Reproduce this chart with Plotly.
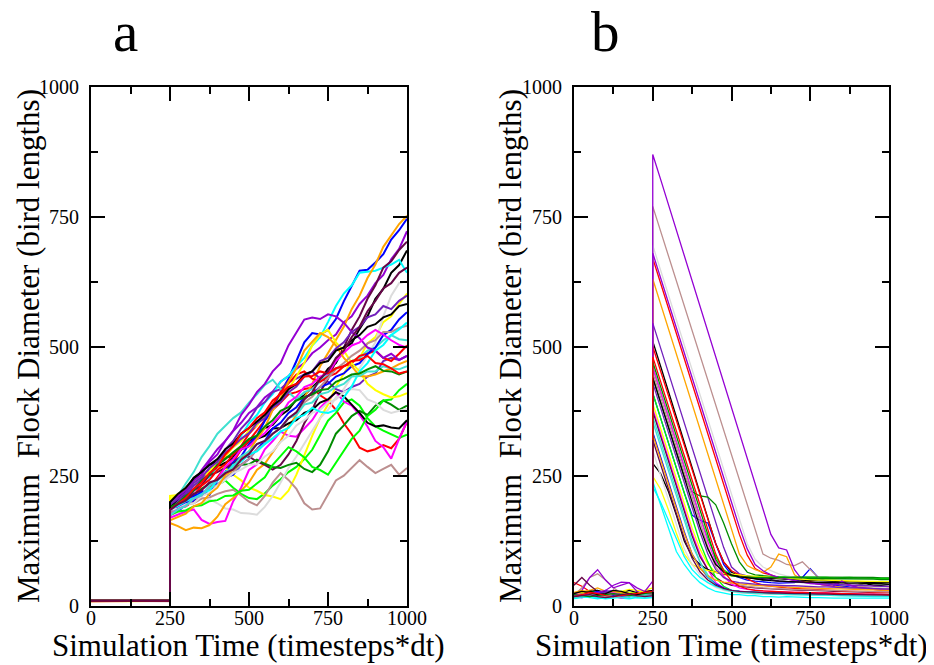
import plotly.graph_objs as go
from plotly.subplots import make_subplots

# time samples (timesteps*dt); 250 appears twice for the jump
T_A = [0, 125, 250, 250, 275, 300, 325, 350, 375, 400, 425, 450, 475, 500, 525, 550, 575, 600,
       625, 650, 675, 700, 725, 750, 775, 800, 825, 850, 875, 900, 925, 950, 975, 1000]
T_B = [0, 25, 50, 75, 100, 125, 150, 175, 200, 225, 250, 250, 275, 300, 325, 350, 375, 400, 425,
       450, 475, 500, 525, 550, 575, 600, 625, 650, 675, 700, 725, 750, 775, 800, 825, 850, 875,
       900, 925, 950, 975, 1000]

# panel a: flock diameter per run
A01 = [10, 11, 10, 185, 198, 218, 224, 243, 252, 268, 276, 285, 301, 318, 326, 343, 349, 367, 378, 398, 406, 422, 436, 457, 468, 497, 506, 534, 558, 592, 611, 642, 657, 685]
A02 = [9, 10, 10, 175, 188, 192, 203, 213, 228, 248, 268, 276, 302, 318, 338, 356, 378, 392, 408, 412, 418, 421, 406, 396, 378, 352, 331, 305, 298, 302, 310, 304, 322, 355]
A03 = [11, 10, 10, 180, 192, 198, 212, 214, 228, 233, 242, 228, 216, 208, 206, 217, 232, 244, 258, 268, 283, 301, 328, 357, 372, 392, 398, 386, 362, 346, 338, 331, 324, 330]
A04 = [10, 10, 11, 190, 182, 196, 203, 222, 214, 242, 258, 277, 288, 312, 328, 357, 378, 412, 438, 472, 508, 526, 523, 532, 553, 587, 618, 646, 648, 662, 678, 706, 724, 746]
A05 = [10, 9, 10, 205, 216, 224, 232, 243, 262, 268, 266, 253, 242, 228, 222, 214, 211, 206, 222, 253, 292, 328, 362, 388, 423, 448, 472, 478, 506, 518, 547, 558, 582, 602]
A06 = [10, 10, 9, 180, 188, 196, 198, 207, 209, 216, 221, 224, 213, 201, 194, 212, 238, 256, 243, 226, 198, 186, 188, 214, 242, 251, 266, 281, 268, 256, 264, 272, 253, 266]
A07 = [9, 10, 10, 175, 181, 184, 192, 198, 206, 198, 188, 186, 179, 178, 176, 191, 212, 238, 266, 288, 312, 338, 362, 378, 402, 418, 442, 458, 482, 508, 558, 598, 622, 626]
A08 = [10, 11, 10, 196, 204, 222, 238, 262, 283, 302, 318, 337, 353, 372, 383, 402, 413, 432, 443, 457, 468, 487, 498, 512, 523, 547, 558, 582, 598, 622, 638, 668, 688, 722]
A09 = [10, 10, 10, 186, 194, 212, 223, 242, 248, 272, 288, 312, 328, 352, 368, 392, 408, 432, 443, 462, 478, 502, 518, 547, 578, 602, 618, 642, 644, 646, 652, 658, 667, 642]
A10 = [10, 10, 10, 170, 176, 182, 186, 166, 158, 162, 164, 202, 228, 262, 273, 302, 318, 336, 328, 326, 342, 358, 382, 398, 412, 394, 386, 368, 346, 318, 306, 284, 322, 356]
A11 = [9, 10, 10, 160, 154, 146, 151, 150, 156, 172, 196, 208, 222, 238, 262, 274, 296, 318, 346, 368, 402, 428, 462, 488, 512, 538, 572, 598, 632, 658, 692, 714, 736, 752]
A12 = [10, 10, 10, 190, 202, 213, 232, 244, 266, 278, 302, 318, 342, 358, 382, 393, 412, 418, 432, 438, 446, 452, 438, 432, 418, 412, 422, 428, 442, 448, 472, 478, 474, 482]
A13 = [10, 10, 10, 180, 192, 203, 222, 233, 252, 258, 266, 273, 287, 288, 278, 272, 263, 272, 292, 318, 352, 378, 412, 438, 472, 498, 532, 558, 592, 618, 652, 664, 686, 702]
A14 = [10, 10, 10, 195, 212, 236, 258, 287, 308, 332, 348, 362, 373, 392, 408, 426, 436, 418, 412, 398, 412, 418, 432, 446, 458, 462, 472, 478, 492, 498, 512, 522, 514, 512]
A15 = [10, 10, 10, 186, 194, 207, 213, 226, 236, 243, 256, 264, 272, 273, 282, 274, 268, 266, 272, 276, 264, 258, 272, 298, 332, 348, 366, 376, 368, 386, 396, 388, 378, 386]
A16 = [10, 10, 10, 190, 207, 223, 247, 258, 272, 278, 287, 288, 302, 308, 322, 328, 342, 343, 352, 358, 372, 378, 392, 398, 412, 404, 388, 372, 353, 346, 348, 344, 342, 358]
A17 = [10, 10, 10, 180, 188, 202, 213, 232, 243, 262, 273, 292, 308, 332, 348, 372, 388, 412, 428, 446, 452, 438, 432, 442, 448, 462, 468, 482, 486, 492, 478, 472, 486, 502]
A18 = [10, 10, 10, 175, 182, 184, 192, 194, 202, 204, 212, 213, 222, 224, 236, 248, 272, 288, 306, 298, 286, 268, 262, 253, 276, 298, 322, 338, 366, 378, 396, 398, 416, 428]
A19 = [10, 10, 10, 180, 192, 198, 212, 218, 226, 233, 247, 253, 272, 283, 302, 318, 342, 353, 372, 383, 402, 408, 422, 428, 442, 448, 462, 468, 486, 498, 522, 532, 552, 566]
A20 = [10, 10, 10, 212, 214, 228, 238, 252, 258, 278, 288, 306, 318, 338, 348, 368, 378, 402, 418, 442, 468, 502, 523, 532, 508, 492, 468, 452, 428, 416, 408, 402, 404, 410]
A21 = [10, 10, 10, 180, 186, 193, 207, 213, 227, 233, 247, 258, 272, 283, 302, 312, 332, 343, 362, 373, 392, 403, 422, 438, 456, 468, 482, 492, 506, 512, 528, 528, 536, 540]
A22 = [10, 10, 10, 185, 188, 196, 198, 212, 218, 232, 243, 256, 263, 272, 273, 288, 298, 316, 328, 348, 358, 372, 378, 392, 398, 412, 418, 416, 398, 392, 378, 372, 376, 380]
A23 = [10, 10, 10, 200, 212, 223, 242, 253, 278, 292, 318, 338, 368, 388, 412, 428, 452, 468, 502, 528, 552, 556, 553, 562, 558, 546, 528, 516, 498, 492, 478, 486, 474, 482]
A24 = [10, 10, 10, 186, 193, 202, 208, 216, 223, 242, 253, 272, 278, 292, 298, 312, 323, 336, 343, 362, 368, 382, 374, 372, 378, 402, 423, 452, 468, 492, 503, 522, 533, 546]
A25 = [10, 10, 10, 175, 187, 193, 207, 213, 232, 243, 268, 283, 302, 308, 322, 333, 352, 368, 392, 403, 422, 428, 442, 448, 472, 488, 502, 508, 522, 532, 523, 512, 503, 498]
A26 = [10, 10, 10, 165, 172, 178, 192, 198, 216, 228, 252, 263, 282, 298, 322, 343, 378, 398, 432, 458, 492, 508, 526, 518, 502, 478, 462, 443, 442, 446, 452, 458, 466, 472]
A27 = [10, 10, 10, 195, 206, 218, 237, 248, 266, 278, 296, 308, 322, 333, 352, 362, 382, 393, 412, 423, 442, 452, 472, 478, 496, 508, 528, 538, 556, 562, 578, 572, 588, 598]
A28 = [10, 10, 10, 185, 196, 203, 216, 223, 238, 243, 256, 263, 282, 293, 312, 318, 332, 343, 362, 373, 398, 412, 438, 452, 478, 492, 518, 538, 568, 588, 612, 622, 642, 652]
A29 = [10, 10, 10, 175, 186, 193, 207, 213, 232, 243, 258, 268, 288, 298, 312, 318, 332, 343, 362, 368, 388, 392, 408, 412, 422, 428, 442, 443, 452, 452, 462, 458, 456, 462]
A30 = [10, 10, 10, 190, 198, 212, 223, 242, 253, 272, 283, 296, 308, 322, 328, 346, 358, 376, 383, 396, 402, 408, 416, 418, 432, 438, 446, 448, 456, 462, 453, 452, 446, 452]
A31 = [10, 10, 10, 200, 216, 228, 246, 258, 272, 283, 302, 313, 332, 343, 356, 368, 386, 398, 418, 428, 446, 452, 468, 472, 492, 498, 512, 522, 538, 543, 556, 562, 578, 582]
A32 = [10, 10, 10, 185, 196, 208, 226, 238, 256, 268, 292, 308, 332, 343, 362, 373, 396, 408, 422, 428, 442, 443, 452, 448, 458, 462, 472, 474, 482, 468, 466, 458, 448, 452]

# panel b: flock diameter per run
B01 = [20, 25, 30, 22, 18, 20, 24, 20, 22, 25, 28, 510, 462, 413, 364, 315, 266, 217, 168, 120, 85, 65, 58, 55, 52, 50, 51, 48, 47, 46, 48, 45, 44, 43, 45, 42, 42, 41, 43, 40, 40, 41]
B02 = [45, 38, 28, 22, 25, 30, 26, 22, 20, 24, 26, 670, 622, 574, 526, 478, 430, 382, 334, 286, 238, 190, 138, 98, 72, 64, 60, 54, 52, 50, 46, 47, 44, 44, 42, 43, 40, 40, 38, 38, 36, 36]
B03 = [18, 22, 26, 30, 24, 20, 22, 26, 24, 22, 25, 460, 412, 364, 316, 268, 220, 172, 130, 95, 70, 60, 58, 57, 57, 56, 56, 56, 55, 56, 56, 55, 55, 55, 54, 55, 55, 54, 54, 54, 53, 53]
B04 = [22, 18, 20, 26, 30, 24, 20, 18, 22, 26, 22, 410, 362, 314, 266, 218, 175, 165, 160, 120, 80, 60, 55, 50, 48, 46, 45, 44, 44, 45, 55, 72, 55, 45, 40, 38, 36, 35, 34, 33, 32, 32]
B05 = [15, 20, 25, 20, 18, 22, 28, 32, 30, 28, 30, 390, 342, 294, 246, 198, 150, 110, 80, 65, 60, 58, 58, 57, 56, 55, 55, 54, 53, 52, 52, 51, 50, 50, 50, 49, 48, 48, 47, 47, 46, 46]
B06 = [20, 35, 55, 62, 50, 35, 25, 22, 20, 24, 26, 770, 722, 674, 626, 578, 530, 482, 434, 386, 338, 290, 242, 194, 146, 100, 92, 88, 80, 78, 85, 70, 55, 48, 45, 42, 40, 38, 36, 35, 34, 33]
B07 = [22, 26, 24, 20, 22, 26, 24, 20, 22, 25, 24, 695, 647, 599, 551, 503, 455, 407, 359, 311, 263, 215, 167, 120, 90, 75, 68, 62, 58, 55, 52, 50, 48, 46, 45, 44, 42, 40, 38, 37, 36, 35]
B08 = [20, 30, 55, 70, 50, 35, 40, 45, 28, 22, 25, 870, 822, 773, 724, 675, 626, 578, 529, 480, 431, 382, 334, 285, 236, 187, 138, 112, 108, 70, 50, 45, 42, 40, 42, 48, 40, 36, 34, 32, 30, 30]
B09 = [15, 18, 16, 14, 16, 18, 15, 14, 16, 15, 17, 240, 195, 150, 105, 80, 60, 45, 35, 28, 25, 22, 22, 20, 20, 18, 18, 17, 18, 17, 16, 16, 16, 15, 15, 15, 15, 14, 15, 14, 15, 15]
B10 = [20, 16, 22, 28, 24, 18, 15, 18, 22, 20, 18, 380, 332, 284, 236, 188, 140, 100, 70, 45, 35, 30, 28, 27, 26, 25, 25, 24, 24, 23, 23, 22, 22, 22, 23, 22, 21, 21, 22, 21, 22, 21]
B11 = [25, 28, 30, 35, 28, 22, 20, 22, 25, 24, 22, 630, 582, 534, 486, 438, 390, 342, 294, 246, 198, 150, 100, 78, 70, 65, 75, 100, 95, 60, 50, 45, 42, 40, 38, 36, 35, 34, 33, 32, 31, 30]
B12 = [25, 22, 20, 24, 28, 30, 26, 22, 20, 22, 24, 545, 497, 449, 401, 353, 305, 257, 209, 161, 113, 75, 62, 58, 55, 52, 50, 48, 47, 46, 45, 44, 43, 42, 41, 40, 40, 40, 39, 38, 38, 38]
B13 = [40, 55, 40, 28, 22, 20, 18, 20, 24, 28, 30, 375, 327, 279, 231, 183, 135, 95, 70, 55, 45, 40, 38, 36, 35, 34, 33, 32, 32, 31, 30, 30, 30, 29, 28, 28, 28, 27, 27, 26, 26, 26]
B14 = [18, 20, 24, 20, 18, 22, 25, 22, 18, 20, 22, 355, 307, 259, 211, 163, 118, 85, 60, 42, 32, 28, 26, 25, 25, 24, 24, 23, 23, 22, 22, 22, 21, 21, 21, 20, 20, 20, 20, 20, 19, 19]
B15 = [20, 24, 28, 24, 20, 18, 20, 24, 26, 24, 22, 440, 392, 344, 296, 250, 220, 212, 210, 195, 160, 120, 85, 65, 60, 58, 57, 56, 56, 56, 56, 56, 56, 56, 56, 56, 56, 55, 55, 55, 54, 54]
B16 = [22, 26, 28, 30, 26, 22, 24, 30, 26, 22, 24, 275, 255, 220, 175, 125, 95, 80, 70, 65, 62, 60, 58, 56, 55, 54, 53, 52, 51, 50, 50, 49, 49, 48, 48, 47, 47, 46, 46, 45, 45, 45]
B17 = [16, 18, 22, 18, 16, 20, 24, 20, 18, 20, 22, 500, 452, 404, 356, 308, 260, 212, 164, 120, 85, 68, 60, 52, 45, 40, 38, 36, 35, 34, 33, 32, 31, 30, 30, 29, 28, 28, 27, 27, 26, 26]
B18 = [24, 20, 18, 20, 24, 28, 24, 20, 18, 20, 24, 410, 362, 314, 266, 218, 170, 122, 85, 55, 38, 30, 28, 27, 26, 26, 25, 25, 25, 24, 24, 24, 24, 23, 23, 23, 22, 22, 22, 22, 21, 21]
B19 = [18, 20, 24, 28, 24, 20, 18, 20, 24, 22, 20, 335, 287, 239, 191, 143, 100, 75, 55, 42, 35, 30, 28, 27, 26, 26, 25, 25, 24, 24, 24, 23, 23, 23, 22, 22, 22, 22, 21, 21, 21, 21]
B20 = [22, 26, 24, 20, 22, 26, 28, 26, 24, 30, 35, 250, 225, 185, 140, 100, 80, 72, 68, 65, 63, 62, 60, 58, 57, 56, 55, 54, 53, 52, 52, 51, 50, 50, 49, 49, 48, 48, 48, 47, 47, 47]
B21 = [20, 22, 20, 18, 20, 24, 22, 20, 22, 24, 26, 450, 402, 354, 306, 258, 210, 162, 114, 75, 55, 45, 40, 38, 36, 35, 34, 33, 32, 32, 31, 31, 30, 30, 30, 29, 29, 28, 28, 28, 27, 27]
B22 = [20, 22, 25, 22, 20, 18, 20, 22, 20, 18, 20, 300, 252, 204, 156, 110, 80, 60, 45, 36, 30, 27, 25, 24, 24, 23, 23, 23, 22, 22, 22, 22, 21, 21, 21, 21, 20, 20, 20, 20, 20, 20]
B23 = [22, 20, 24, 26, 30, 40, 46, 45, 35, 28, 48, 680, 632, 584, 536, 488, 440, 392, 344, 296, 248, 200, 152, 110, 80, 68, 60, 55, 52, 48, 45, 43, 42, 40, 38, 48, 40, 36, 34, 33, 32, 31]
B24 = [14, 16, 18, 16, 14, 15, 16, 18, 16, 15, 16, 230, 200, 165, 130, 95, 70, 55, 45, 38, 33, 30, 28, 27, 26, 25, 24, 24, 23, 23, 22, 22, 22, 21, 21, 20, 20, 19, 19, 18, 18, 18]
B25 = [24, 22, 18, 20, 24, 26, 22, 18, 20, 24, 26, 460, 412, 364, 316, 268, 220, 172, 124, 85, 58, 42, 35, 32, 30, 29, 28, 27, 27, 26, 26, 25, 25, 25, 24, 24, 24, 23, 23, 23, 22, 22]
B26 = [26, 30, 26, 22, 24, 28, 26, 22, 20, 22, 24, 330, 282, 234, 186, 140, 100, 72, 58, 50, 46, 44, 42, 41, 40, 39, 38, 37, 36, 36, 35, 35, 34, 34, 33, 33, 32, 32, 31, 31, 30, 30]
B27 = [20, 18, 20, 24, 26, 24, 20, 18, 20, 22, 24, 430, 382, 334, 286, 238, 190, 142, 100, 70, 55, 48, 45, 43, 42, 41, 40, 40, 39, 39, 38, 38, 37, 37, 36, 36, 35, 35, 34, 34, 33, 33]
B28 = [18, 20, 22, 18, 16, 18, 22, 24, 20, 18, 20, 320, 272, 224, 176, 130, 92, 66, 50, 40, 34, 30, 28, 27, 26, 26, 25, 25, 24, 24, 24, 23, 23, 23, 22, 22, 22, 22, 21, 21, 21, 21]
B29 = [16, 18, 20, 22, 20, 18, 16, 18, 20, 22, 20, 365, 317, 269, 221, 173, 125, 85, 55, 40, 32, 28, 26, 25, 24, 24, 23, 23, 22, 22, 22, 21, 21, 21, 20, 20, 20, 20, 19, 19, 19, 19]
B30 = [22, 20, 18, 20, 22, 24, 22, 20, 22, 24, 26, 470, 422, 374, 326, 278, 230, 182, 134, 90, 65, 58, 56, 55, 55, 55, 55, 54, 54, 54, 54, 53, 53, 53, 53, 53, 52, 52, 52, 52, 51, 51]
B31 = [24, 28, 26, 22, 24, 30, 28, 24, 22, 26, 30, 440, 392, 344, 296, 248, 200, 152, 110, 80, 66, 60, 56, 54, 52, 50, 49, 48, 47, 47, 46, 46, 45, 45, 45, 44, 44, 44, 43, 43, 43, 42]
B32 = [18, 22, 26, 24, 20, 18, 20, 22, 24, 26, 28, 480, 432, 384, 336, 288, 240, 192, 144, 100, 68, 48, 38, 33, 30, 29, 28, 27, 27, 26, 26, 25, 25, 25, 24, 24, 24, 23, 23, 23, 22, 22]

RUNS_A = [A01, A02, A03, A04, A05, A06, A07, A08, A09, A10, A11, A12, A13, A14, A15, A16,
          A17, A18, A19, A20, A21, A22, A23, A24, A25, A26, A27, A28, A29, A30, A31, A32]
RUNS_B = [B01, B02, B03, B04, B05, B06, B07, B08, B09, B10, B11, B12, B13, B14, B15, B16,
          B17, B18, B19, B20, B21, B22, B23, B24, B25, B26, B27, B28, B29, B30, B31, B32]

# xmgrace default colour cycle
PALETTE = ["#000000", "#ff0000", "#00ff00", "#0000ff", "#ffff00", "#bc8f8f", "#dcdcdc", "#9400d3",
           "#00ffff", "#ff00ff", "#ffa500", "#7221bc", "#670748", "#40e0d0", "#008b00"]

for r in RUNS_A:
    assert len(r) == len(T_A), len(r)
for r in RUNS_B:
    assert len(r) == len(T_B), len(r)

# the page adds an 8px body margin, so lay out in screen pixels minus that offset
OFF = 8
W, H = 934 - OFF, 665 - OFF
SERIF = "Liberation Serif"


def px_x(x):
    return (x - OFF) / W


def px_y(y):
    return (H - (y - OFF)) / H


def draw_order(runs):
    # colour follows the run index; the maroon run goes on top like in the original
    pairs = [(r, PALETTE[i % len(PALETTE)]) for i, r in enumerate(runs)]
    top = pairs.pop(27)
    return pairs + [top]


fig = make_subplots(rows=1, cols=2)

for run, col in draw_order(RUNS_A):
    fig.add_trace(go.Scatter(x=T_A, y=run, mode="lines", showlegend=False,
                             line=dict(color=col, width=2)), row=1, col=1)
for run, col in draw_order(RUNS_B):
    fig.add_trace(go.Scatter(x=T_B, y=run, mode="lines", showlegend=False,
                             line=dict(color=col, width=1.3)), row=1, col=2)

axis_style = dict(
    range=[0, 1000],
    tickvals=[0, 250, 500, 750, 1000],
    ticks="inside",
    ticklen=14,
    tickwidth=1.5,
    tickcolor="black",
    minor=dict(tickvals=[125, 375, 625, 875], ticks="inside", ticklen=7,
               tickwidth=1.5, tickcolor="black"),
    showline=True,
    linecolor="black",
    linewidth=1.8,
    mirror="allticks",
    showgrid=False,
    zeroline=False,
    automargin=False,
    tickfont=dict(family=SERIF, size=20, color="black"),
)
x_style = dict(axis_style, ticklabelstandoff=-7)
y_style = dict(axis_style, ticklabelstandoff=6)

fig.update_layout(
    width=W, height=H,
    margin=dict(l=0, r=0, t=0, b=0),
    paper_bgcolor="white",
    plot_bgcolor="white",
    font=dict(family=SERIF, color="black"),
    xaxis=dict(x_style, domain=[px_x(91), px_x(407)]),
    xaxis2=dict(x_style, domain=[px_x(574), px_x(889)]),
    yaxis=dict(y_style, domain=[px_y(606), px_y(87)]),
    yaxis2=dict(y_style, domain=[px_y(606), px_y(87)]),
)

xtitle = "Simulation Time (timesteps*dt)"
ytitle = "Maximum  Flock Diameter (bird lengths)"
for cx, ytx, lab, lx in [(249, 28, "a", 125), (731, 510, "b", 605)]:
    fig.add_annotation(text=xtitle, x=px_x(cx), y=px_y(645), xref="paper", yref="paper",
                       showarrow=False, xanchor="center", yanchor="middle",
                       font=dict(family=SERIF, size=31, color="black"))
    fig.add_annotation(text=ytitle.replace("  ", "&nbsp; "), x=px_x(ytx), y=px_y(346),
                       xref="paper", yref="paper", textangle=-90,
                       showarrow=False, xanchor="center", yanchor="middle",
                       font=dict(family=SERIF, size=31, color="black"))
    fig.add_annotation(text=lab, x=px_x(lx), y=px_y(31), xref="paper", yref="paper",
                       showarrow=False, xanchor="center", yanchor="middle",
                       font=dict(family=SERIF, size=57, color="black"))

fig.write_html("out.html")
